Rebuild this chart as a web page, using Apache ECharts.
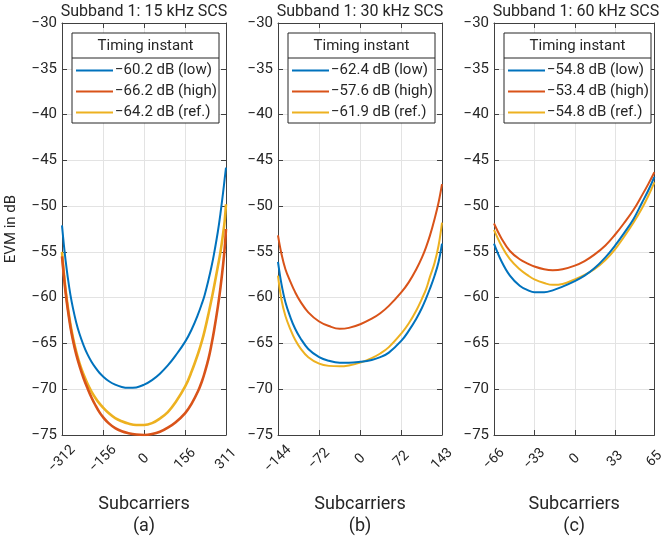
<!DOCTYPE html>
<html>
<head>
<meta charset="utf-8">
<script src="https://cdn.jsdelivr.net/npm/echarts@6/dist/echarts.min.js"></script>
<style>
    html, body { margin: 0; padding: 0; background: #fff; }
    #chart { width: 667px; height: 542px; }
</style>
</head>
<body>
<div id="chart"></div>
<script>
// ---- data ----
var xA = [-312, -305, -298, -290, -280, -270, -258, -245, -230, -215, -200, -185, -170, -156, -135, -110, -85, -60, -30, 0, 30, 60, 90, 120, 156, 180, 205, 220, 230, 245, 256, 265, 280, 290, 300, 306, 311];
var lowA  = [-52.1, -54.2, -56.0, -57.8, -59.7, -61.2, -62.7, -64.0, -65.2, -66.2, -67.0, -67.65, -68.2, -68.6, -69.1, -69.5, -69.75, -69.85, -69.8, -69.5, -69.0, -68.3, -67.4, -66.3, -64.8, -63.5, -61.8, -60.6, -59.7, -58.0, -56.6, -55.3, -52.8, -50.8, -48.5, -47.0, -45.8];
var highA = [-55.5, -57.6, -59.5, -61.3, -63.2, -64.7, -66.2, -67.5, -68.8, -69.9, -70.9, -71.75, -72.5, -73.05, -73.7, -74.25, -74.6, -74.8, -74.95, -75.0, -74.9, -74.65, -74.2, -73.6, -72.6, -71.6, -70.2, -69.1, -68.2, -66.6, -65.1, -63.7, -61.0, -58.9, -56.4, -54.6, -52.5];
var refA  = [-55.0, -57.3, -59.2, -61.0, -62.9, -64.4, -65.9, -67.2, -68.4, -69.4, -70.25, -70.95, -71.55, -72.0, -72.6, -73.15, -73.5, -73.75, -73.9, -73.9, -73.7, -73.2, -72.5, -71.4, -69.7, -68.1, -66.1, -64.7, -63.6, -61.7, -60.2, -58.9, -56.6, -55.0, -53.0, -51.6, -49.8];

var xB = [-144, -138, -131, -122, -114, -105, -91, -72, -55, -36, -20, 0, 20, 35, 50, 72, 85, 98, 108, 115, 122, 130, 137, 143];
var lowB  = [-56.1, -58.5, -60.5, -62.2, -63.4, -64.4, -65.6, -66.5, -66.9, -67.1, -67.1, -67.0, -66.8, -66.5, -66.0, -64.7, -63.6, -62.3, -61.1, -60.1, -59.0, -57.6, -56.1, -54.1];
var highB = [-53.2, -55.2, -56.9, -58.3, -59.4, -60.4, -61.6, -62.6, -63.1, -63.4, -63.3, -62.9, -62.3, -61.7, -60.9, -59.4, -58.3, -56.9, -55.6, -54.5, -53.2, -51.4, -49.6, -47.6];
var refB  = [-57.6, -60.2, -62.0, -63.5, -64.6, -65.5, -66.5, -67.2, -67.45, -67.5, -67.4, -67.1, -66.6, -66.1, -65.4, -63.9, -62.8, -61.4, -60.1, -59.1, -57.7, -56.2, -54.3, -51.8];

var xC = [-66, -60, -53, -45, -38, -33, -25, -18, -10, 0, 8, 16, 25, 33, 40, 48, 55, 60, 65];
var lowC  = [-54.1, -56.0, -57.6, -58.7, -59.2, -59.4, -59.4, -59.2, -58.8, -58.2, -57.6, -56.8, -55.6, -54.3, -53.0, -51.4, -49.6, -48.3, -46.8];
var highC = [-51.9, -53.5, -54.9, -55.8, -56.3, -56.6, -56.9, -57.0, -56.9, -56.5, -56.0, -55.3, -54.3, -53.1, -51.9, -50.4, -48.8, -47.6, -46.3];
var refC  = [-52.6, -54.3, -55.8, -56.9, -57.6, -58.0, -58.4, -58.6, -58.5, -58.0, -57.5, -56.9, -55.9, -54.7, -53.4, -51.8, -50.2, -48.9, -47.4];

var namesA = ['\u221260.2 dB (low)', '\u221266.2 dB (high)', '\u221264.2 dB (ref.)'];
var namesB = ['\u221262.4 dB (low)', '\u221257.6 dB (high)', '\u221261.9 dB (ref.)'];
var namesC = ['\u221254.8 dB (low)', '\u221253.4 dB (high)', '\u221254.8 dB (ref.)'];

var ticksA = [-312, -156, 0, 156, 311];
var ticksB = [-144, -72, 0, 72, 143];
var ticksC = [-66, -33, 0, 33, 65];

var titles = ['Subband 1: 15 kHz SCS', 'Subband 1: 30 kHz SCS', 'Subband 1: 60 kHz SCS'];
var letters = ['(a)', '(b)', '(c)'];

var colors = ['#0072BD', '#D95319', '#EDB120'];

// ---- layout ----
var FONT = 'Roboto';
var TXT = '#262626';
var AX = '#404040';
var gridLefts = [62, 278, 494];
var gridW = 164;
var gridTop = 23;
var gridH = 414;

function minus(v) { return String(v).replace('-', '\u2212'); }
function zip(xs, ys) { return xs.map(function (x, i) { return [x, ys[i]]; }); }

var panels = [
    { xs: xA, ys: [lowA, highA, refA], names: namesA, ticks: ticksA },
    { xs: xB, ys: [lowB, highB, refB], names: namesB, ticks: ticksB },
    { xs: xC, ys: [lowC, highC, refC], names: namesC, ticks: ticksC }
];

var grid = [], xAxis = [], yAxis = [], series = [], legend = [], graphic = [];

panels.forEach(function (p, i) {
    var L = gridLefts[i];
    grid.push({ left: L, top: gridTop, width: gridW, height: gridH });
    var xmin = p.ticks[0], xmax = p.ticks[p.ticks.length - 1];

    // bottom x axis
    xAxis.push({
        type: 'value', gridIndex: i, min: xmin, max: xmax, position: 'bottom',
        axisLine: { show: true, onZero: false, lineStyle: { color: AX, width: 1 } },
        axisTick: { show: true, inside: true, length: 5, customValues: p.ticks, lineStyle: { color: AX } },
        axisLabel: { customValues: p.ticks, rotate: 45, margin: 24, align: 'center', verticalAlign: 'middle',
            fontFamily: FONT, fontSize: 14, color: TXT, formatter: minus },
        splitLine: { show: true, lineStyle: { color: '#e3e3e3', width: 1 } },
        name: 'Subcarriers\n' + letters[i], nameLocation: 'middle', nameGap: 58,
        nameTextStyle: { fontFamily: FONT, fontSize: 18, color: TXT, lineHeight: 22 }
    });
    // top x axis (box)
    xAxis.push({
        type: 'value', gridIndex: i, min: xmin, max: xmax, position: 'top',
        axisLine: { show: true, onZero: false, lineStyle: { color: AX, width: 1 } },
        axisTick: { show: true, inside: true, length: 5, customValues: p.ticks, lineStyle: { color: AX } },
        axisLabel: { show: false }, splitLine: { show: false }
    });
    // left y axis
    yAxis.push({
        type: 'value', gridIndex: i, min: -75, max: -30, interval: 5, position: 'left',
        axisLine: { show: true, onZero: false, lineStyle: { color: AX, width: 1 } },
        axisTick: { show: true, inside: true, length: 5, lineStyle: { color: AX } },
        axisLabel: { margin: 5, fontFamily: FONT, fontSize: 15, color: TXT, formatter: minus },
        splitLine: { show: true, lineStyle: { color: '#e3e3e3', width: 1 } },
        name: i === 0 ? 'EVM in dB' : '', nameLocation: 'middle', nameGap: 43,
        nameTextStyle: { fontFamily: FONT, fontSize: 15, color: TXT }
    });
    // right y axis (box)
    yAxis.push({
        type: 'value', gridIndex: i, min: -75, max: -30, interval: 5, position: 'right',
        axisLine: { show: true, onZero: false, lineStyle: { color: AX, width: 1 } },
        axisTick: { show: true, inside: true, length: 5, lineStyle: { color: AX } },
        axisLabel: { show: false }, splitLine: { show: false }
    });

    p.ys.forEach(function (ys, k) {
        series.push({
            type: 'line', name: p.names[k], xAxisIndex: i * 2, yAxisIndex: i * 2,
            data: zip(p.xs, ys), smooth: 0.4, symbol: 'none',
            lineStyle: { color: colors[k], width: (i === 0 && k > 0) ? 2.6 : 2 },
            itemStyle: { color: colors[k] }, z: 5 - k
        });
    });

    // legend box
    var bx = L + 10, bw = 147;
    graphic.push({ type: 'rect', shape: { x: bx, y: 33, width: bw, height: 90 }, style: { fill: '#fff', stroke: TXT, lineWidth: 1 }, z: 10 });
    graphic.push({ type: 'line', shape: { x1: bx, y1: 58, x2: bx + bw, y2: 58 }, style: { stroke: TXT, lineWidth: 1 }, z: 11 });
    graphic.push({ type: 'text', x: bx + bw / 2, y: 46, style: { text: 'Timing instant', fill: TXT, font: '15px ' + FONT, textAlign: 'center', textVerticalAlign: 'middle' }, z: 11 });
    // panel title
    graphic.push({ type: 'text', x: L + gridW / 2, y: 12, style: { text: titles[i], fill: TXT, font: '16px ' + FONT, textAlign: 'center', textVerticalAlign: 'middle' }, z: 11 });

    legend.push({
        data: p.names, left: bx + 4, top: 63, orient: 'vertical', padding: 0,
        itemWidth: 37, itemHeight: 2, itemGap: 6, icon: 'rect', z: 20,
        textStyle: { fontFamily: FONT, fontSize: 15, color: TXT, lineHeight: 14, padding: [0, 0, 0, -3] }
    });
});

var chart = echarts.init(document.getElementById('chart'), null, { renderer: 'canvas' });
chart.setOption({
    animation: false,
    backgroundColor: '#fff',
    color: colors,
    grid: grid,
    xAxis: xAxis,
    yAxis: yAxis,
    legend: legend,
    graphic: graphic,
    series: series
});
</script>
</body>
</html>
